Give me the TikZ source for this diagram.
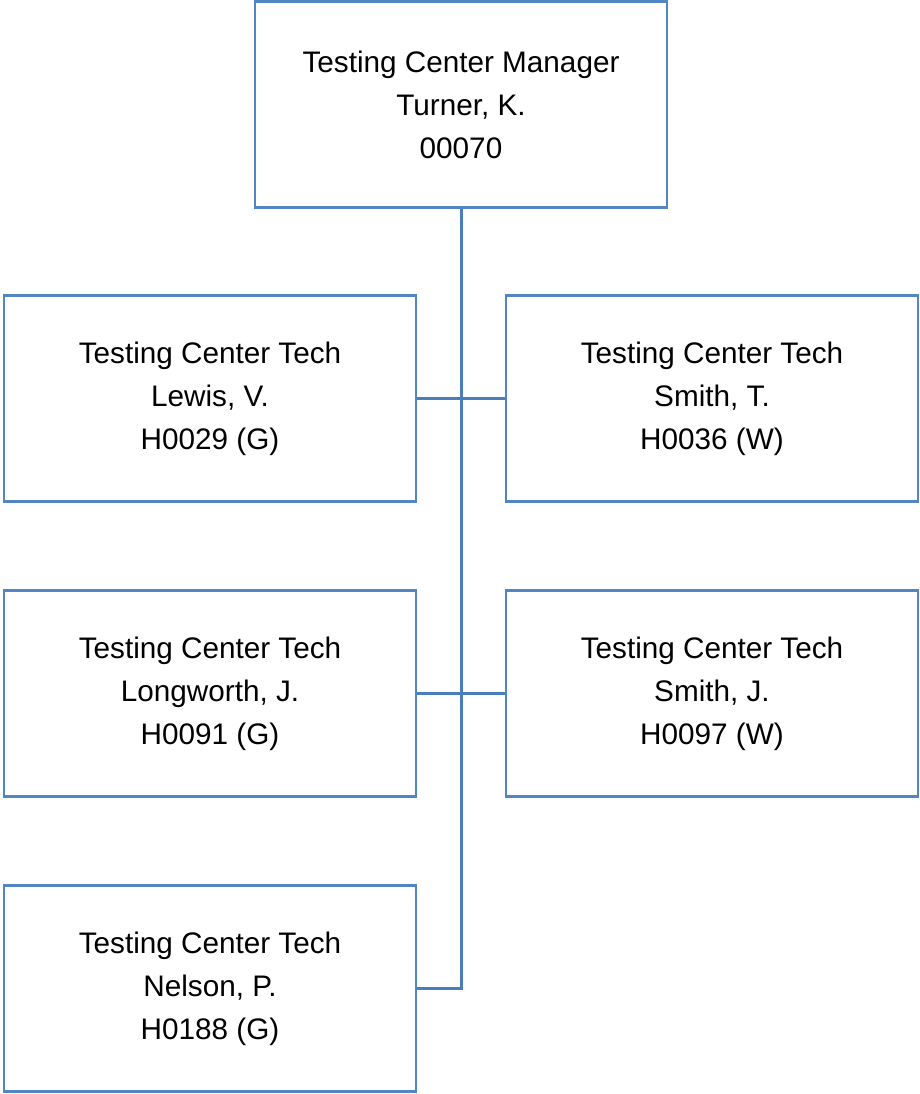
\documentclass[tikz,border=0pt]{standalone}
\usepackage{fontspec}
\setmainfont{Liberation Sans}
\usepackage{xcolor}
\definecolor{boxblue}{HTML}{5286C2}
\definecolor{lineblue}{HTML}{4A7EBB}
\tikzset{%
  staffbox/.style={draw=boxblue, line width=2.5pt, minimum width=412pt, minimum height=206pt,
    inner sep=0pt, align=center, font=\fontsize{29.7}{43}\selectfont},
  orgline/.style={draw=lineblue, line width=3pt}
}

\begin{document}
\begin{tikzpicture}[x=1pt,y=-1pt]
    \useasboundingbox (0,0) rectangle (920,1094);
    \node[staffbox] (mgr) at (461,104.5) {Testing Center Manager\\Turner, K.\\00070};
    \node[staffbox] (lewis) at (210,398.5) {Testing Center Tech\\Lewis, V.\\H0029 (G)};
    \node[staffbox] (smitht) at (712,398.5) {Testing Center Tech\\Smith, T.\\H0036 (W)};
    \node[staffbox] (longworth) at (210,693.5) {Testing Center Tech\\Longworth, J.\\H0091 (G)};
    \node[staffbox] (smithj) at (712,693.5) {Testing Center Tech\\Smith, J.\\H0097 (W)};
    \node[staffbox] (nelson) at (210,988.5) {Testing Center Tech\\Nelson, P.\\H0188 (G)};
    \coordinate (trunkend) at (461,988.5);
   % reporting lines
    \draw[orgline] (mgr.south) -- (trunkend) -- (nelson.east);
    \draw[orgline] (lewis.east) -- (smitht.west);
    \draw[orgline] (longworth.east) -- (smithj.west);
\end{tikzpicture}
\end{document}
